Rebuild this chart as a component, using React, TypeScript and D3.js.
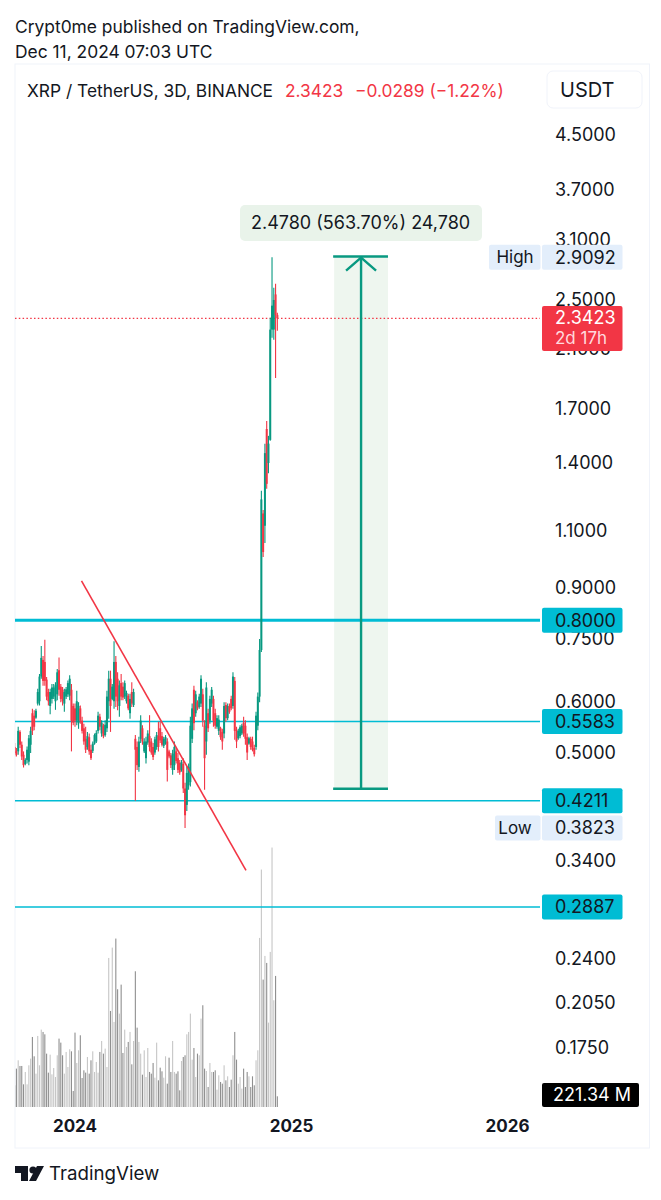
import React, { useEffect, useRef } from "react";
import * as d3 from "d3";

const highs = [
  0.517, 0.508, 0.548, 0.541, 0.52, 0.502, 0.49, 0.511, 0.532, 0.548,
  0.584, 0.581, 0.584, 0.627, 0.661, 0.73, 0.705, 0.747, 0.654, 0.627,
  0.627, 0.638, 0.638, 0.642, 0.673, 0.701, 0.638, 0.631, 0.627, 0.631,
  0.646, 0.658, 0.638, 0.595, 0.595, 0.623, 0.598, 0.591, 0.568, 0.554,
  0.548, 0.538, 0.535, 0.514, 0.52, 0.535, 0.541, 0.578, 0.574, 0.561,
  0.554, 0.561, 0.623, 0.669, 0.669, 0.638, 0.743, 0.705, 0.665, 0.646,
  0.661, 0.642, 0.646, 0.623, 0.616, 0.616, 0.642, 0.627,
  0.532, 0.52, 0.529, 0.571, 0.551, 0.526, 0.529, 0.541, 0.571, 0.526,
  0.517, 0.529, 0.538, 0.558, 0.558, 0.538, 0.529, 0.532, 0.526, 0.505,
  0.499, 0.505, 0.52, 0.508, 0.499, 0.487, 0.487, 0.49, 0.449, 0.476,
  0.481, 0.568, 0.595, 0.634, 0.623, 0.602, 0.616, 0.658, 0.627, 0.561,
  0.642, 0.584, 0.612, 0.631, 0.612, 0.584, 0.571, 0.571, 0.548, 0.544,
  0.598, 0.598, 0.595, 0.595, 0.612, 0.665, 0.654, 0.548, 0.544, 0.551,
  0.554, 0.568, 0.561, 0.535, 0.529, 0.529, 0.529, 0.514, 0.578, 0.619,
  0.749, 1.268, 1.185, 1.499, 1.626, 1.542, 2.346, 2.9092, 2.61, 2.648, 2.389,
];

const lows = [
  0.493, 0.493, 0.496, 0.508, 0.487, 0.474, 0.478, 0.481, 0.478, 0.499,
  0.532, 0.541, 0.564, 0.591, 0.591, 0.65, 0.634, 0.634, 0.602, 0.591,
  0.573, 0.595, 0.605, 0.582, 0.602, 0.612, 0.598, 0.591, 0.578, 0.605,
  0.609, 0.602, 0.502, 0.551, 0.548, 0.551, 0.544, 0.554, 0.535, 0.514,
  0.499, 0.505, 0.496, 0.487, 0.499, 0.514, 0.517, 0.535, 0.541, 0.529,
  0.526, 0.529, 0.538, 0.564, 0.538, 0.602, 0.584, 0.588, 0.581, 0.568,
  0.602, 0.602, 0.605, 0.595, 0.581, 0.564, 0.588, 0.588,
  0.421, 0.47, 0.467, 0.517, 0.514, 0.499, 0.481, 0.514, 0.502, 0.496,
  0.487, 0.496, 0.505, 0.502, 0.517, 0.511, 0.508, 0.514, 0.451, 0.49,
  0.473, 0.462, 0.47, 0.481, 0.465, 0.462, 0.467, 0.433, 0.3823, 0.406,
  0.438, 0.443, 0.517, 0.541, 0.568, 0.581, 0.584, 0.588, 0.548, 0.438,
  0.496, 0.538, 0.554, 0.588, 0.548, 0.544, 0.544, 0.532, 0.523, 0.505,
  0.526, 0.558, 0.561, 0.574, 0.581, 0.584, 0.523, 0.508, 0.523, 0.526,
  0.532, 0.529, 0.514, 0.487, 0.514, 0.505, 0.502, 0.493, 0.505, 0.541,
  0.598, 0.715, 1.002, 1.053, 1.277, 1.35, 1.515, 2.185, 2.17, 1.895, 2.24,
];

const opens = [
  0.51, 0.502, 0.502, 0.538, 0.514, 0.496, 0.48, 0.487, 0.484, 0.514,
  0.575, 0.57, 0.566, 0.595, 0.6, 0.655, 0.695, 0.69, 0.648, 0.62,
  0.59, 0.605, 0.61, 0.6, 0.615, 0.67, 0.632, 0.625, 0.595, 0.61,
  0.615, 0.612, 0.625, 0.59, 0.585, 0.56, 0.555, 0.585, 0.56, 0.545,
  0.525, 0.51, 0.528, 0.505, 0.503, 0.516, 0.52, 0.54, 0.568, 0.535,
  0.55, 0.532, 0.545, 0.6, 0.65, 0.605, 0.6, 0.69, 0.65, 0.59,
  0.64, 0.632, 0.61, 0.6, 0.612, 0.575, 0.62, 0.592,
  0.525, 0.51, 0.475, 0.525, 0.545, 0.502, 0.49, 0.518, 0.53, 0.52,
  0.51, 0.5, 0.51, 0.53, 0.545, 0.53, 0.512, 0.516, 0.52, 0.502,
  0.495, 0.47, 0.478, 0.502, 0.49, 0.482, 0.47, 0.48, 0.44, 0.415,
  0.445, 0.45, 0.525, 0.625, 0.575, 0.598, 0.588, 0.595, 0.615, 0.55,
  0.52, 0.575, 0.56, 0.595, 0.605, 0.575, 0.548, 0.54, 0.545, 0.538,
  0.535, 0.592, 0.565, 0.59, 0.605, 0.59, 0.645, 0.542, 0.526, 0.53,
  0.535, 0.556, 0.55, 0.528, 0.516, 0.525, 0.52, 0.508, 0.51, 0.55,
  0.61, 0.72, 1.17, 1.12, 1.58, 1.4, 1.52, 2.25, 2.25, 2.55, 2.371,
];

const closes = [
  0.499, 0.496, 0.54, 0.514, 0.493, 0.478, 0.487, 0.505, 0.526, 0.54,
  0.54, 0.548, 0.58, 0.62, 0.655, 0.7, 0.645, 0.645, 0.61, 0.6,
  0.62, 0.63, 0.63, 0.635, 0.665, 0.625, 0.605, 0.6, 0.62, 0.626,
  0.64, 0.65, 0.56, 0.556, 0.56, 0.6, 0.59, 0.56, 0.54, 0.52,
  0.505, 0.53, 0.502, 0.49, 0.516, 0.532, 0.536, 0.57, 0.548, 0.556,
  0.53, 0.552, 0.61, 0.65, 0.59, 0.632, 0.69, 0.61, 0.6, 0.635,
  0.61, 0.608, 0.64, 0.618, 0.585, 0.605, 0.595, 0.62,
  0.505, 0.478, 0.52, 0.56, 0.52, 0.52, 0.52, 0.535, 0.51, 0.5,
  0.492, 0.524, 0.532, 0.51, 0.522, 0.514, 0.525, 0.528, 0.47, 0.493,
  0.478, 0.498, 0.51, 0.485, 0.47, 0.466, 0.483, 0.44, 0.4, 0.465,
  0.475, 0.55, 0.585, 0.555, 0.615, 0.585, 0.61, 0.65, 0.56, 0.49,
  0.63, 0.545, 0.605, 0.625, 0.56, 0.55, 0.565, 0.562, 0.528, 0.52,
  0.59, 0.565, 0.59, 0.578, 0.585, 0.655, 0.54, 0.52, 0.54, 0.547,
  0.55, 0.535, 0.525, 0.5, 0.526, 0.51, 0.505, 0.497, 0.57, 0.61,
  0.72, 1.23, 1.02, 1.45, 1.3, 1.5, 2.25, 2.45, 2.5, 2.37, 2.3423,
];

// volume in millions
const volumes = [
  449, 794, 966, 849, 849, 469, 725, 469, 863, 1001,
  1449, 1049, 690, 1470, 863, 1601, 1553, 1504, 1104, 711,
  1083, 676, 807, 621, 1070, 1415, 1332, 1070, 690, 1139,
  828, 1194, 1152, 331, 1539, 911, 1173, 1484, 600, 759,
  711, 1035, 690, 966, 1152, 725, 932, 711, 1139, 1366,
  1104, 1208, 828, 3084, 1987, 3298, 1760, 3485, 2436, 1932,
  2532, 1118, 1601, 1242, 1346, 1553, 883, 1366, 2808, 1642,
  1346, 1104, 669, 1173, 621, 1221,
  725, 690, 911, 607, 1332, 552, 814, 738, 607, 1049,
  483, 1021, 725, 1366, 725, 690, 738, 345, 952, 1035,
  1070, 1504, 1553, 1932, 980, 1221, 621, 1104, 1070, 1829,
  2105, 794, 745, 414, 911, 725, 725, 759, 359, 656,
  518, 483, 863, 552, 635, 414, 566, 1070, 1553, 980,
  483, 621, 380, 794, 414, 725, 635, 414, 635, 449,
  966, 1173, 3498, 4913, 2636, 3126, 2981, 1746, 3209, 5368,
  2208, 2712, 221.34,
];

const priceTicks = [4.5, 3.7, 3.1, 2.5, 2.1, 1.7, 1.4, 1.1, 0.9, 0.75, 0.6, 0.5, 0.34, 0.24, 0.205, 0.175];
const yearTicks = [2024, 2025, 2026];

const firstCandle = new Date(Date.UTC(2023, 8, 21));
const lastPrice = 2.3423;

const levels = [
  { price: 0.8, label: "0.8000", thick: 3 },
  { price: 0.5583, label: "0.5583", thick: 1.4 },
  { price: 0.4211, label: "0.4211", thick: 1.4 },
  { price: 0.2887, label: "0.2887", thick: 1.4 },
];

const trendFrom = { date: new Date(Date.UTC(2024, 0, 12)), price: 0.9205 };
const trendTo = { date: new Date(Date.UTC(2024, 9, 16)), price: 0.3289 };

const projection = {
  start: new Date(Date.UTC(2025, 2, 14)),
  end: new Date(Date.UTC(2025, 5, 13)),
  bottom: 0.4396,
  top: 2.9176,
};

const GREEN = "#089981";
const RED = "#f23645";
const TEAL = "#00bcd4";
const INK = "#131722";
const FONT = "Inter, 'Noto Sans', sans-serif";

export default function App() {
  const ref = useRef<SVGSVGElement>(null);

  useEffect(() => {
    const svg = d3.select(ref.current);
    svg.selectAll("*").remove();
    svg.attr("font-family", FONT);

    const x = d3
      .scaleUtc()
      .domain([new Date(Date.UTC(2024, 0, 1)), new Date(Date.UTC(2026, 0, 1))])
      .range([75, 507.5]);
    const y = d3.scaleLog().domain([4.5, 0.175]).range([134.7, 1047.7]);
    const vol = d3.scaleLinear().domain([0, 5400]).range([1107, 846]);
    const dates = closes.map((_, i) => d3.utcDay.offset(firstCandle, i * 3));
    const idx = d3.range(closes.length);

    // frame
    svg.append("rect").attr("x", 15).attr("y", 64).attr("width", 634.5).attr("height", 1084)
      .attr("fill", "#fff").attr("stroke", "#f0f3fa").attr("stroke-width", 1);

    const defs = svg.append("defs");
    defs.append("clipPath").attr("id", "pane").append("rect")
      .attr("x", 15).attr("y", 64).attr("width", 525).attr("height", 1043);
    const pane = svg.append("g").attr("clip-path", "url(#pane)");

    // projection box
    const boxL = x(projection.start);
    const boxR = x(projection.end);
    const boxM = (boxL + boxR) / 2;
    pane.append("rect").attr("x", boxL).attr("y", y(projection.top))
      .attr("width", boxR - boxL).attr("height", y(projection.bottom) - y(projection.top))
      .attr("fill", "#eef6ef");

    // volume
    pane.append("g").selectAll("rect").data(idx).join("rect")
      .attr("x", (i) => x(dates[i]) - 0.55)
      .attr("width", 1.1)
      .attr("y", (i) => vol(volumes[i]))
      .attr("height", (i) => vol(0) - vol(volumes[i]))
      .attr("fill", (i) => (closes[i] >= opens[i] ? "#c6c6c6" : "#8f8f8f"));

    // level lines
    pane.append("g").selectAll("line").data(levels).join("line")
      .attr("x1", 15).attr("x2", 540)
      .attr("y1", (d) => y(d.price)).attr("y2", (d) => y(d.price))
      .attr("stroke", TEAL).attr("stroke-width", (d) => d.thick);

    pane.append("line").attr("x1", 15).attr("x2", 540)
      .attr("y1", y(lastPrice)).attr("y2", y(lastPrice))
      .attr("stroke", RED).attr("stroke-width", 1.2).attr("stroke-dasharray", "1.5 2.3");

    // candles
    const candle = pane.append("g").selectAll("g").data(idx).join("g")
      .attr("fill", (i) => (closes[i] >= opens[i] ? GREEN : RED))
      .attr("stroke", (i) => (closes[i] >= opens[i] ? GREEN : RED));
    candle.append("line")
      .attr("x1", (i) => x(dates[i])).attr("x2", (i) => x(dates[i]))
      .attr("y1", (i) => y(highs[i])).attr("y2", (i) => y(lows[i]))
      .attr("stroke-width", 1.1);
    candle.append("rect")
      .attr("x", (i) => x(dates[i]) - 1).attr("width", 2)
      .attr("y", (i) => y(Math.max(opens[i], closes[i])))
      .attr("height", (i) => Math.abs(y(opens[i]) - y(closes[i])))
      .attr("stroke", "none");

    // trend line
    pane.append("line")
      .attr("x1", x(trendFrom.date)).attr("y1", y(trendFrom.price))
      .attr("x2", x(trendTo.date)).attr("y2", y(trendTo.price))
      .attr("stroke", RED).attr("stroke-width", 1.6);

    // projection arrow
    const arrow = pane.append("g").attr("stroke", GREEN).attr("fill", "none").attr("stroke-width", 2.4);
    arrow.append("line").attr("x1", boxL - 1).attr("x2", boxR).attr("y1", y(projection.top)).attr("y2", y(projection.top));
    arrow.append("line").attr("x1", boxL - 1).attr("x2", boxR).attr("y1", y(projection.bottom)).attr("y2", y(projection.bottom));
    arrow.append("line").attr("x1", boxM).attr("x2", boxM).attr("y1", y(projection.top)).attr("y2", y(projection.bottom));
    arrow.append("path").attr("d", d3.line()([
      [boxM - 15, y(projection.top) + 14],
      [boxM, y(projection.top) + 1],
      [boxM + 15, y(projection.top) + 14],
    ]));

    svg.append("rect").attr("x", 240).attr("y", 205).attr("width", 242).attr("height", 36).attr("rx", 5).attr("fill", "#e9f3ea");
    svg.append("text").attr("x", 251).attr("y", 229).attr("font-size", 18).attr("fill", INK)
      .text("2.4780 (563.70%) 24,780");

    // price axis
    const yAxis = d3.axisRight(y).tickValues(priceTicks).tickSize(0).tickPadding(0)
      .tickFormat((d) => d3.format(".4f")(d as number));
    const yg = svg.append("g").attr("transform", "translate(555,0)").call(yAxis as any);
    yg.select(".domain").remove();
    yg.selectAll("text").attr("font-size", 18).attr("font-family", FONT).attr("fill", INK);

    // time axis
    const xAxis = d3.axisBottom(x)
      .tickValues(yearTicks.map((yr) => new Date(Date.UTC(yr, 0, 1))))
      .tickSize(0).tickPadding(0)
      .tickFormat((d) => d3.utcFormat("%Y")(d as Date));
    const xg = svg.append("g").attr("transform", "translate(-0.5,1120)").call(xAxis as any);
    xg.select(".domain").remove();
    xg.selectAll("text").attr("font-size", 17).attr("font-weight", 700).attr("font-family", FONT).attr("fill", INK);

    // tags on the price axis
    const tag = (py: number, label: string, bg: string, fg: string) => {
      svg.append("rect").attr("x", 542).attr("y", py - 12.5).attr("width", 80.5).attr("height", 25).attr("rx", 2).attr("fill", bg);
      svg.append("text").attr("x", 555).attr("y", py).attr("dy", "0.35em").attr("font-size", 18).attr("fill", fg).text(label);
    };
    levels.forEach((d) => tag(y(d.price), d.label, TEAL, INK));

    const sideTag = (py: number, side: string, left: number, label: string) => {
      svg.append("rect").attr("x", left).attr("y", py - 12.5).attr("width", 540.5 - left).attr("height", 25).attr("rx", 2).attr("fill", "#e3eefb");
      svg.append("text").attr("x", 515).attr("y", py).attr("dy", "0.35em").attr("text-anchor", "middle").attr("font-size", 17).attr("fill", INK).text(side);
      tag(py, label, "#e3eefb", INK);
    };
    sideTag(y(2.9092), "High", 489, "2.9092");
    sideTag(y(0.3823), "Low", 495, "0.3823");

    svg.append("rect").attr("x", 542).attr("y", 306).attr("width", 80.5).attr("height", 45).attr("rx", 2).attr("fill", RED);
    svg.append("text").attr("x", 555).attr("y", 318).attr("dy", "0.35em").attr("font-size", 18).attr("fill", "#fff").text("2.3423");
    svg.append("text").attr("x", 555).attr("y", 338).attr("dy", "0.35em").attr("font-size", 17).attr("fill", "#ffd9dd").text("2d 17h");

    svg.append("rect").attr("x", 542).attr("y", 1083).attr("width", 97).attr("height", 24).attr("rx", 2).attr("fill", "#000");
    svg.append("text").attr("x", 553).attr("y", 1095).attr("dy", "0.35em").attr("font-size", 18).attr("fill", "#fff").text("221.34 M");

    // header
    svg.append("text").attr("x", 15).attr("y", 33).attr("font-size", 17.4).attr("fill", INK).text("Crypt0me published on TradingView.com,");
    svg.append("text").attr("x", 15).attr("y", 58).attr("font-size", 17.4).attr("fill", INK).text("Dec 11, 2024 07:03 UTC");

    svg.append("text").attr("x", 27).attr("y", 97).attr("font-size", 17.35).attr("fill", INK).text("XRP / TetherUS, 3D, BINANCE");
    svg.append("text").attr("x", 285).attr("y", 97).attr("font-size", 17.35).attr("fill", RED).text("2.3423");
    svg.append("text").attr("x", 355).attr("y", 97).attr("font-size", 17.35).attr("fill", RED).text("−0.0289 (−1.22%)");

    svg.append("rect").attr("x", 547).attr("y", 71).attr("width", 95).attr("height", 37).attr("rx", 6)
      .attr("fill", "#fff").attr("stroke", "#f0f3fa");
    svg.append("text").attr("x", 560).attr("y", 97).attr("font-size", 20).attr("fill", INK).text("USDT");

    // footer logo
    const logo = svg.append("g").attr("fill", INK);
    logo.append("path").attr("d", "M15 1166H28V1181H21V1173H15Z");
    logo.append("circle").attr("cx", 33).attr("cy", 1170).attr("r", 3.6);
    logo.append("path").attr("d", "M36 1181H29L37 1166H44Z");
    svg.append("text").attr("x", 49).attr("y", 1180).attr("font-size", 18.7).attr("fill", INK).text("TradingView");
  }, []);

  return <svg ref={ref} width={661} height={1200} style={{ position: "absolute", left: 0, top: 0 }} />;
}
